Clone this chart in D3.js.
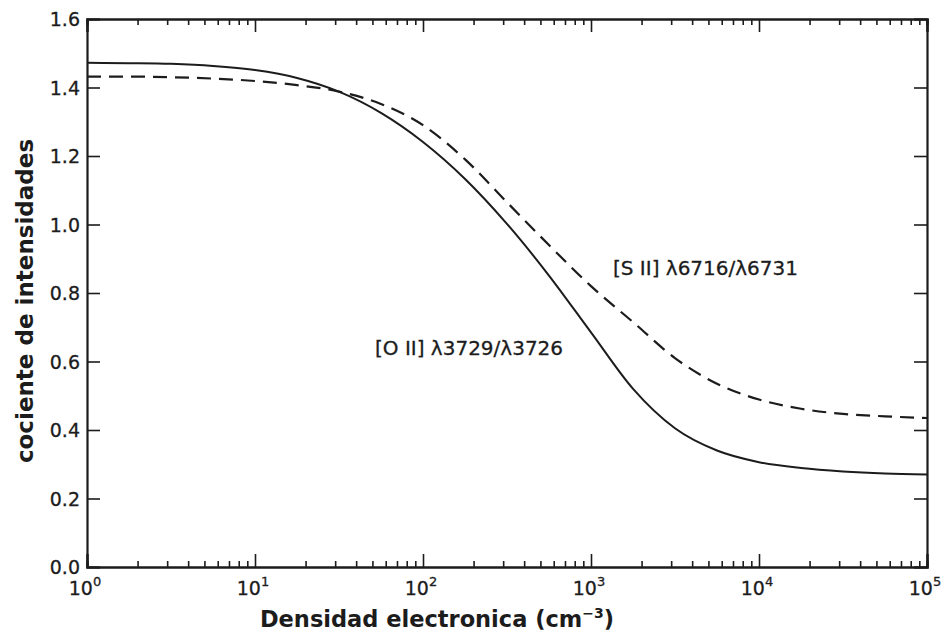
<!DOCTYPE html>
<html>
<head>
<meta charset="utf-8">
<script src="https://cdn.jsdelivr.net/npm/d3@7"></script>
<style>
  html, body { margin: 0; padding: 0; background: #fff; }
  svg { display: block; }
  text { fill: #1c1c1c; }
</style>
</head>
<body>
<svg id="chart" width="946" height="635"></svg>
<script>
// Electron density (cm^-3), quarter-decade grid
const density = [1, 1.78, 3.16, 5.62, 10, 17.8, 31.6, 56.2, 100, 178, 316, 562,
                 1000, 1780, 3160, 5620, 10000, 17800, 31600, 56200, 100000];

// Line-intensity ratios versus density
const ratioOII = [1.472, 1.471, 1.469, 1.463, 1.451, 1.428, 1.388, 1.326, 1.241, 1.133, 1.002,
                  0.851, 0.685, 0.520, 0.405, 0.340, 0.306, 0.289, 0.279, 0.273, 0.270];
const ratioSII = [1.432, 1.432, 1.430, 1.426, 1.419, 1.407, 1.388, 1.352, 1.290, 1.190, 1.065,
                  0.940, 0.820, 0.715, 0.610, 0.535, 0.489, 0.462, 0.447, 0.440, 0.435];

const seriesNames = ["[O II] \u03bb3729/\u03bb3726", "[S II] \u03bb6716/\u03bb6731"];
const yTicks = [0.0, 0.2, 0.4, 0.6, 0.8, 1.0, 1.2, 1.4, 1.6];
const xDecades = [0, 1, 2, 3, 4, 5];

const svg = d3.select("#chart");
const margin = { left: 87, right: 19, top: 19, bottom: 68 };
const W = 946, H = 635;

const x = d3.scaleLog().domain([1, 1e5]).range([margin.left, W - margin.right]);
const y = d3.scaleLinear().domain([0, 1.6]).range([H - margin.bottom, margin.top]);

const ink = "#1c1c1c";
const fontTick = "DejaVu Sans, sans-serif";

// minor ticks: 2..9 within each decade
const minorTicks = [];
for (let d = 0; d < 5; d++) for (let m = 2; m <= 9; m++) minorTicks.push(m * Math.pow(10, d));
const majorTicks = xDecades.map(e => Math.pow(10, e));

// frame axes with inward ticks on all four sides
const axisB = svg.append("g").attr("transform", `translate(0,${y(0)})`)
  .call(d3.axisBottom(x).tickValues(majorTicks).tickSize(-13).tickFormat(""));
axisB.append("g").call(d3.axisBottom(x).tickValues(minorTicks).tickSize(-6).tickFormat(""));
const axisT = svg.append("g").attr("transform", `translate(0,${y(1.6)})`)
  .call(d3.axisTop(x).tickValues(majorTicks).tickSize(-13).tickFormat(""));
axisT.append("g").call(d3.axisTop(x).tickValues(minorTicks).tickSize(-6).tickFormat(""));
const axisL = svg.append("g").attr("transform", `translate(${x(1)},0)`)
  .call(d3.axisLeft(y).tickValues(yTicks).tickSize(-13).tickFormat(d3.format(".1f")));
const axisR = svg.append("g").attr("transform", `translate(${x(1e5)},0)`)
  .call(d3.axisRight(y).tickValues(yTicks).tickSize(-13).tickFormat(""));

svg.selectAll(".domain").attr("stroke", ink).attr("stroke-width", 2.2);
svg.selectAll(".tick line").attr("stroke", ink).attr("stroke-width", 1.6);
axisL.selectAll(".tick text")
  .attr("font-family", fontTick).attr("font-size", 19).attr("fill", ink)
  .attr("stroke", ink).attr("stroke-width", 0.3)
  .attr("x", -7).attr("dy", "0.36em");

// x tick labels as 10 with superscript exponent
const xl = svg.append("g");
xDecades.forEach(e => {
  const t = xl.append("text")
    .attr("x", x(Math.pow(10, e)) - 2).attr("y", 595)
    .attr("text-anchor", "middle")
    .attr("font-family", fontTick).attr("font-size", 19).attr("fill", ink)
    .attr("stroke", ink).attr("stroke-width", 0.3);
  t.append("tspan").text("10");
  t.append("tspan").attr("dy", -9).attr("font-size", 13).text(String(e));
});

// curves
const line = d3.line()
  .x((d, i) => x(density[i]))
  .y(d => y(d))
  .curve(d3.curveMonotoneX);

svg.append("path").datum(ratioOII)
  .attr("d", line).attr("fill", "none")
  .attr("stroke", ink).attr("stroke-width", 2);
svg.append("path").datum(ratioSII)
  .attr("d", line).attr("fill", "none")
  .attr("stroke", ink).attr("stroke-width", 2.2)
  .attr("stroke-dasharray", "14,8");

// curve annotations
svg.append("text").attr("x", 375).attr("y", 355)
  .attr("font-family", fontTick).attr("font-size", 20).attr("fill", ink)
  .attr("stroke", ink).attr("stroke-width", 0.3)
  .text(seriesNames[0]);
svg.append("text").attr("x", 613).attr("y", 275)
  .attr("font-family", fontTick).attr("font-size", 20).attr("fill", ink)
  .attr("stroke", ink).attr("stroke-width", 0.3)
  .text(seriesNames[1]);

// axis titles
const xt = svg.append("text")
  .attr("x", 437).attr("y", 627)
  .attr("text-anchor", "middle")
  .attr("font-family", "DejaVu Sans, sans-serif").attr("font-weight", "bold")
  .attr("font-size", 22.5).attr("fill", ink);
xt.append("tspan").text("Densidad electronica (cm");
xt.append("tspan").attr("dy", -9).attr("font-size", 14).text("\u22123");
xt.append("tspan").attr("dy", 9).text(")");

svg.append("text")
  .attr("transform", `translate(33,301) rotate(-90)`)
  .attr("text-anchor", "middle")
  .attr("font-family", "DejaVu Sans, sans-serif").attr("font-weight", "bold")
  .attr("font-size", 23).attr("fill", ink)
  .text("cociente de intensidades");
</script>
</body>
</html>
